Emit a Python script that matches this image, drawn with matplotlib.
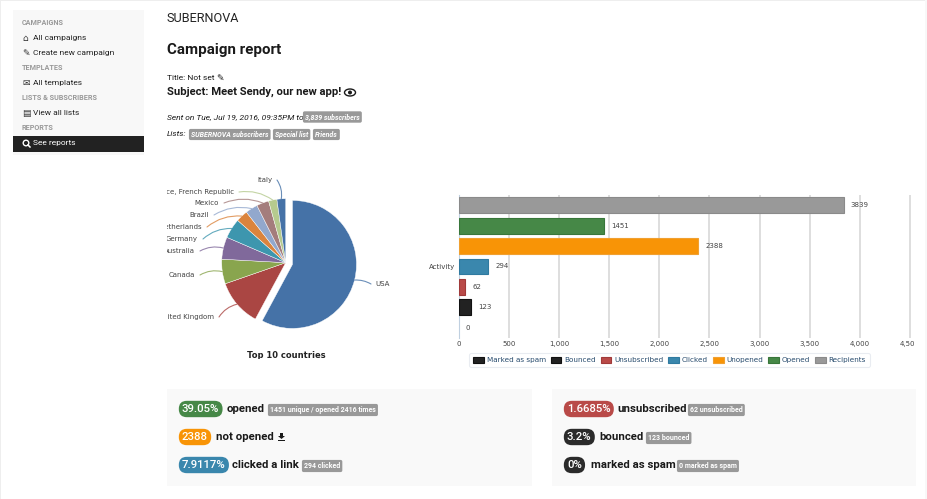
import matplotlib
matplotlib.use('Agg')
import math
import matplotlib.pyplot as plt
from matplotlib.patches import Rectangle, Circle, Ellipse, Polygon
from matplotlib.transforms import Bbox

# pie data
countries = ['USA', 'United Kingdom', 'Canada', 'Australia', 'Germany', 'Netherlands',
             'Brazil', 'Mexico', 'France, French Republic', 'Italy']
country_share = [57.8, 11.8, 6.2, 5.6, 5.0, 3.0, 3.1, 3.1, 2.1, 2.2]
pie_colors = ['#4572A7', '#AA4643', '#89A54E', '#80699B', '#3D96AE', '#DB843D',
              '#92A8CD', '#A47D7C', '#B5CA8E', '#4572A7']

# bar data, bottom to top
activity = ['Marked as spam', 'Bounced', 'Unsubscribed', 'Clicked', 'Unopened', 'Opened', 'Recipients']
activity_counts = [0, 123, 62, 294, 2388, 1451, 3839]
activity_colors = ['#222222', '#222222', '#B94A48', '#3A87AD', '#F89406', '#468847', '#999999']
activity_edges = ['#111111', '#111111', '#A03A3A', '#2F7AA0', '#F0A030', '#38763A', '#8A8A8A']
xticks = [0, 500, 1000, 1500, 2000, 2500, 3000, 3500, 4000, 4500]

GREEN, ORANGE, BLUE, RED, DARK, GRAY = '#468847', '#F89406', '#3A87AD', '#B94A48', '#2B2B2B', '#999999'
TXT = '#1a1a1a'
PAGE = 'Roboto'
CHART = 'DejaVu Sans'

fig = plt.figure(figsize=(9.28, 4.99), dpi=100, facecolor='white')

# page layer, axes in pixels
page = fig.add_axes([0, 0, 1, 1], zorder=0)
page.set_xlim(0, 928)
page.set_ylim(499, 0)
page.axis('off')


def box(x0, y0, x1, y1, color):
    page.add_patch(Rectangle((x0, y0), x1 - x0, y1 - y0, fc=color, ec='none'))


def txt(x, y, s, size=6.5, color=TXT, weight='normal', style='normal', family=PAGE):
    page.text(x, y, s, fontsize=size, color=color, fontweight=weight, fontstyle=style,
              family=family, va='center', ha='left')


def tag(x, y, s, color=GRAY, size=5.0, style='normal'):
    # small square label
    page.text(x, y, s, fontsize=size, color='white', fontweight='bold', fontstyle=style, family=PAGE,
              va='center', ha='left',
              bbox=dict(boxstyle='round,pad=0.3,rounding_size=0.25', fc=color, ec='none'))


def pill(x, y, s, color):
    page.text(x, y, s, fontsize=8.2, color='white', fontweight='medium', family=PAGE, va='center', ha='left',
              bbox=dict(boxstyle='round,pad=0.28,rounding_size=0.7', fc=color, ec='none'))


# faint page edges
box(0, 0, 928, 1, '#EEEEEE')
box(0, 0, 1, 499, '#EEEEEE')
box(925, 0, 928, 499, '#F8F8F8')

# sidebar
box(13, 10, 144, 155, '#F8F8F8')
box(13, 136, 144, 152, '#222222')
for y, s in [(23, 'CAMPAIGNS'), (68, 'TEMPLATES'), (98, 'LISTS & SUBSCRIBERS'), (128, 'REPORTS')]:
    txt(22, y, s, 5.2, '#999999', 'bold')
for y, s, icon in [(38, 'All campaigns', '\u2302'), (53, 'Create new campaign', '\u270e'),
                   (83, 'All templates', '\u2709'), (113, 'View all lists', '\u25a4')]:
    txt(33, y, s, 6.0, '#222222')
    txt(22, y, icon, 6.5, '#333333', family='DejaVu Sans')
txt(33, 143.5, 'See reports', 6.0, 'white')
page.add_patch(Circle((26, 143), 2.8, fc='none', ec='white', lw=1))
page.plot([28, 30], [145, 147], color='white', lw=1.1)

# header
txt(167, 18, 'SUBERNOVA', 9.1, '#222222')
txt(167, 50, 'Campaign report', 10.9, TXT, 'bold')
txt(167, 78, 'Title: Not set', 6.0, TXT)
txt(216, 78, '\u270e', 6.5, family='DejaVu Sans')
txt(167, 92, 'Subject: Meet Sendy, our new app!', 8.1, TXT, 'bold')
page.add_patch(Ellipse((350, 92.5), 11, 7, fc='none', ec=TXT, lw=1))
page.add_patch(Circle((350, 92.5), 2, fc=TXT, ec='none'))
txt(167, 117, 'Sent on Tue, Jul 19, 2016, 09:35PM to', 6.0, style='italic')
tag(305, 117, '3,839 subscribers', style='italic')
txt(167, 134.5, 'Lists:', 6.0, style='italic')
tag(191, 134.5, 'SUBERNOVA subscribers', style='italic')
tag(275, 134.5, 'Special list', style='italic')
tag(315, 134.5, 'Friends', style='italic')

# stat panels
box(167, 389, 532, 486, '#F9F9F9')
box(552, 389, 916, 486, '#F9F9F9')
pill(182, 409, '39.05%', GREEN)
txt(227, 409, 'opened', 8.2, TXT, 'bold')
tag(270, 410, '1451 unique / opened 2416 times')
pill(182, 437, '2388', ORANGE)
txt(216, 437, 'not opened', 8.2, TXT, 'bold')
# download icon, no installed font has it
page.add_patch(Polygon([[280, 433], [283, 433], [283, 436], [285, 436], [281.5, 439], [278, 436], [280, 436]],
                       fc=TXT, ec='none'))
box(278, 439.5, 285, 441, TXT)
pill(182, 465, '7.9117%', BLUE)
txt(232, 465, 'clicked a link', 8.2, TXT, 'bold')
tag(304, 466, '294 clicked')
pill(567, 409, '1.6685%', RED)
txt(617, 409, 'unsubscribed', 8.2, TXT, 'bold')
tag(690, 410, '62 unsubscribed')
pill(567, 437, '3.2%', DARK)
txt(599, 437, 'bounced', 8.2, TXT, 'bold')
tag(648, 438, '123 bounced')
pill(567, 465, '0%', DARK)
txt(591, 465, 'marked as spam', 8.2, TXT, 'bold')
tag(679, 466, '0 marked as spam')

# pie, axes limits in pixels with y going up
pie_ax = fig.add_axes([167 / 928, (499 - 358.5) / 499, (440 - 167) / 928, (358.5 - 170) / 499], zorder=1)
wedges, _ = pie_ax.pie(country_share, colors=pie_colors, startangle=90, counterclock=False,
                       center=(285.7, 499 - 262.7), radius=64, explode=[7] + [0] * 9,
                       wedgeprops=dict(edgecolor='white', linewidth=0.3))
pie_ax.set_xlim(167, 440)
pie_ax.set_ylim(499 - 358.5, 499 - 170)
pie_ax.set_aspect('equal')
pie_ax.patch.set_alpha(0)

label_x = [375, 214, 195, 195, 198, 202, 209, 219, 234, 272]
label_y = [284, 317, 275, 251, 239, 227, 215, 203, 192, 180]
for w, name, lx, ly in zip(wedges, countries, label_x, label_y):
    mid = math.radians((w.theta1 + w.theta2) / 2)
    ex = w.center[0] + w.r * math.cos(mid)
    ey = w.center[1] + w.r * math.sin(mid)
    right_side = name == 'USA'
    pie_ax.text(lx, 499 - ly, name, fontsize=5, color='#444444', family=CHART, va='center',
                ha='left' if right_side else 'right', clip_on=True)
    start = (lx - 4, 499 - ly) if right_side else (lx + 5, 499 - ly)
    rad = 0.15 if right_side else -0.2
    pie_ax.annotate('', xy=(ex, ey), xytext=start,
                    arrowprops=dict(arrowstyle='-', color=w.get_facecolor(), lw=0.8, alpha=0.8,
                                    shrinkA=0, shrinkB=0, connectionstyle='arc3,rad=%s' % rad))
pie_ax.text(286, 499 - 355, 'Top 10 countries', fontsize=6, color='#222222', fontweight='bold',
            family=CHART, ha='center', va='center', clip_on=True)

# bars
bar_ax = fig.add_axes([459 / 928, (499 - 338) / 499, (915 - 459) / 928, (338 - 195) / 499], zorder=1)
positions = list(range(len(activity)))
bars = bar_ax.barh(positions, activity_counts, height=0.78, color=activity_colors,
                   edgecolor=activity_edges, linewidth=0.8, zorder=3)
bars.patches[0].set_linewidth(0)
bar_ax.set_xlim(0, 456 / 0.1002)
bar_ax.set_ylim(-0.5, 6.5)
bar_ax.set_xticks(xticks)
bar_ax.set_xticklabels(['{:,}'.format(t) for t in xticks])
bar_ax.set_yticks([3])
bar_ax.set_yticklabels(['Activity'])
bar_ax.tick_params(axis='x', length=0, labelsize=5, labelcolor='#444444', pad=2.5)
bar_ax.tick_params(axis='y', length=0, labelsize=5, labelcolor='#444444', pad=3)
for t in bar_ax.get_xticklabels() + bar_ax.get_yticklabels():
    t.set_family(CHART)
for t in bar_ax.get_xticklabels():
    t.set_clip_box(Bbox([[400, 0], [915, 499]]))
    t.set_clip_on(True)
bar_ax.grid(axis='x', color='#D8D8D8', lw=1.2, zorder=0)
for side in ['top', 'right', 'bottom']:
    bar_ax.spines[side].set_visible(False)
bar_ax.spines['left'].set_color('#C0D0E0')
bar_ax.bar_label(bars, fontsize=5, color='#444444', padding=5, family=CHART)
leg = bar_ax.legend(bars.patches, activity, ncol=7, loc='center', bbox_to_anchor=(669.5 / 928, (499 - 360) / 499),
                    bbox_transform=fig.transFigure, fontsize=5.2, frameon=True, handlelength=1.5, handleheight=0.9,
                    columnspacing=0.65, handletextpad=0.4, borderpad=0.5, borderaxespad=0, labelcolor='#274b6d')
leg.get_frame().set_edgecolor('#E4E8EE')
leg.get_frame().set_linewidth(0.8)
for t in leg.get_texts():
    t.set_family(CHART)
# zero-length legend key would take the bar's missing edge
leg.legend_handles[0].set_linewidth(0.8)

fig.savefig('out.png', dpi=100)
